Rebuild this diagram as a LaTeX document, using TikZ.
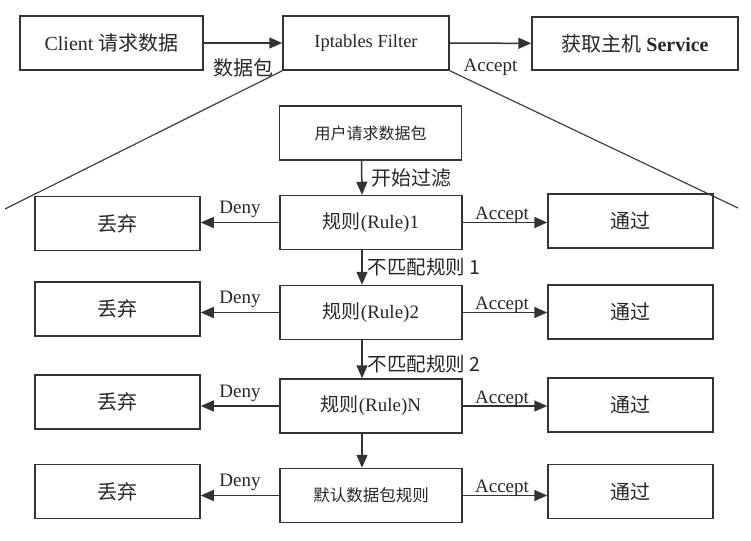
\documentclass[tikz,border=0pt]{standalone}
\usepackage{fontspec}
\setmainfont{Liberation Serif}
\newfontfamily\cjk{Noto Sans CJK SC}
\usetikzlibrary{arrows.meta}
\newcommand{\zh}[1]{{\cjk #1}}

\tikzset{
	box/.style = {draw = black!80, line width = 1.5pt, minimum height = 54pt, inner sep = 0pt, text = black!85},
	sidebox/.style = {box, minimum width = 165pt, font = \fontsize{20}{24}\selectfont},
	rulebox/.style = {box, minimum width = 182pt, font = \fontsize{19}{23}\selectfont},
	flow/.style = {draw = black!80, line width = 1.5pt, -{Triangle[length = 13pt, width = 11pt]}},
	lbl/.style = {inner sep = 1pt, text = black!85, font = \fontsize{19}{23}\selectfont}
}

\begin{document}
\begin{tikzpicture}[x = 1pt, y = -1pt]
\useasboundingbox (0, 0) rectangle (751, 540);

\node[box, minimum width = 183pt, font = \fontsize{20}{24}\selectfont] (client) at (111.5, 43) 
{Client \zh{请求数据}};
\node[box, minimum width = 166pt, font = \fontsize{18.5}{22}\selectfont] (filter) at (366, 43) 
{Iptables Filter};
\node[box, minimum width = 206pt, minimum height = 53pt, font = \fontsize{20}{24}\selectfont] (service) at (635, 43.5) 
{\zh{获取主机} \textbf{Service}};

\draw[flow] (client) -- (filter) node[lbl, midway, below = 14pt, font = \fontsize{20}{24}\selectfont] 
{\zh{数据包}};
\draw[flow] (filter) -- (service) node[lbl, midway, below = 14pt] 
{Accept};

\coordinate (fanL) at (5, 209);
\coordinate (fanR) at (738, 208);
\draw[draw = black!75, line width = 1.2pt] (filter.south west) -- (fanL);
\draw[draw = black!75, line width = 1.2pt] (filter.south east) -- (fanR);

\node[rulebox, font = \fontsize{16}{20}\selectfont] (start) at (370.5, 133) 
{\zh{用户请求数据包}};

\foreach \rw/\ry/\dy/\py/\txt in {
	1/222.5/223.5/221/{\zh{规则}(Rule)1},
	2/312.5/309/312/{\zh{规则}(Rule)2},
	N/406/402/405/{\zh{规则}(Rule)N},
	D/495.5/491.5/491.5/{\fontsize{16.5}{20}\selectfont\zh{默认数据包规则}}
	} 
{
\node[rulebox] (rule\rw) at (371, \ry) {\txt};
\node[sidebox] (drop\rw) at (117.5, \dy) {\zh{丢弃}};
\node[sidebox] (pass\rw) at (630.5, \py) {\zh{通过}};
\draw[flow] (rule\rw.west) -- (rule\rw.west -| drop\rw.east) node[lbl, midway, above = 3pt] 
{Deny};
\draw[flow] (rule\rw.east) -- (rule\rw.east -| pass\rw.west) node[lbl, midway, above = -3pt, xshift = -3pt] 
{Accept};
}

\draw[flow] ([xshift = -9pt]start.south) -- ([xshift = -9pt]rule1.north) node[lbl, midway, right = 8pt, font = \fontsize{20}{24}\selectfont] 
{\zh{开始过滤}};
\draw[flow] ([xshift = -9pt]rule1.south) -- ([xshift = -9pt]rule2.north) node[lbl, midway, right = 4pt, font = \fontsize{19.5}{23}\selectfont] 
{\zh{不匹配规则 1}};
\draw[flow] ([xshift = -9pt]rule2.south) -- ([xshift = -9pt]ruleN.north) node[lbl, midway, right = 4pt, yshift = -5pt, font = \fontsize{19.5}{23}\selectfont] 
{\zh{不匹配规则 2}};
\draw[flow] ([xshift = -9pt]ruleN.south) -- ([xshift = -9pt]ruleD.north);

\end{tikzpicture}
\end{document}
